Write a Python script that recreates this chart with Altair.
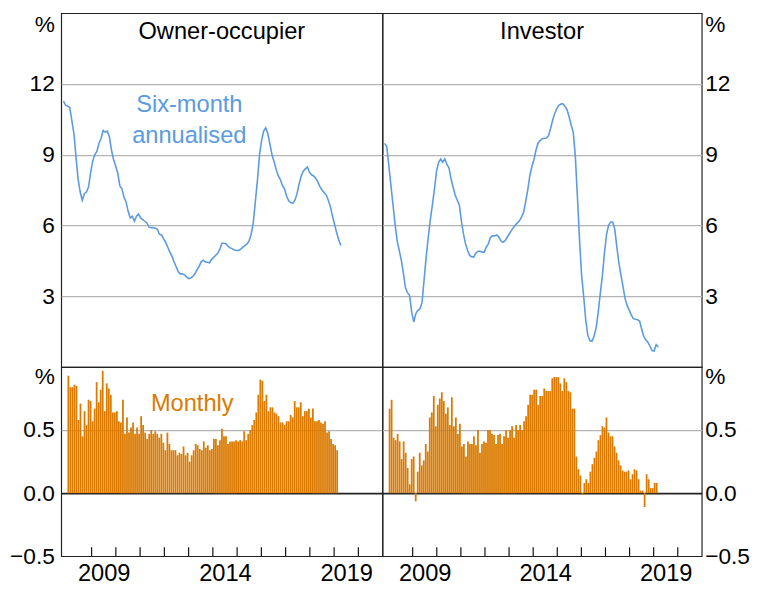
import altair as alt
import pandas as pd

# ---------------- data (monthly, from Jan 2008) ----------------
panel_titles = ["Owner-occupier", "Investor"]
tick_years = list(range(2009, 2021))
label_years = [2009.5, 2014.5, 2019.5]

oo_sixmonth = [
    11.27, 11.1, 11.06, 11.0, 10.45, 9.9, 8.9, 7.97, 7.42, 7.07, 7.35, 7.42,
    7.63, 8.24, 8.73, 9.0, 9.14, 9.48, 9.69, 10.03, 9.96, 10.0, 9.76, 9.2,
    8.8, 8.52, 8.24, 7.69, 7.56, 7.21, 7.0, 6.6, 6.32, 6.39, 6.18, 6.39,
    6.48, 6.32, 6.25, 6.18, 6.11, 5.93, 5.91, 5.91, 5.88, 5.84, 5.63, 5.6,
    5.43, 5.29, 5.08, 4.87, 4.7, 4.46, 4.26, 4.05, 3.95, 3.95, 3.91, 3.82,
    3.75, 3.77, 3.84, 3.95, 4.12, 4.26, 4.46, 4.53, 4.46, 4.44, 4.42, 4.56,
    4.65, 4.74, 4.83, 5.0, 5.25, 5.25, 5.22, 5.11, 5.05, 5.01, 4.96, 4.94,
    4.94, 5.0, 5.08, 5.15, 5.22, 5.35, 5.63, 6.1, 7.0, 7.9, 9.0, 9.6,
    10.0, 10.14, 9.9, 9.45, 9.0, 8.7, 8.38, 8.1, 7.95, 7.7, 7.56, 7.25,
    7.05, 6.97, 6.94, 7.07, 7.35, 7.76, 8.1, 8.3, 8.4, 8.48, 8.25, 8.15,
    8.1, 8.0, 7.85, 7.65, 7.5, 7.4, 7.3, 7.07, 6.8, 6.4, 6.05, 5.7,
    5.4, 5.15,
]

inv_sixmonth = [
    9.48, 9.34, 8.52, 7.69, 6.87, 6.04, 5.35, 4.94, 4.53, 3.98, 3.36, 3.15,
    3.04, 2.33, 1.91, 2.26, 2.40, 2.47, 2.74, 3.7, 4.67, 5.49, 6.25, 6.87,
    7.55, 8.31, 8.68, 8.82, 8.68, 8.82, 8.59, 8.45, 7.97, 7.62, 7.28, 7.07,
    6.87, 6.18, 5.63, 5.22, 4.94, 4.73, 4.67, 4.67, 4.83, 4.91, 4.91, 4.87,
    4.87, 5.08, 5.22, 5.49, 5.56, 5.56, 5.6, 5.52, 5.35, 5.29, 5.35, 5.49,
    5.63, 5.77, 5.9, 6.01, 6.11, 6.2, 6.35, 6.55, 7.0, 7.5, 8.1, 8.5,
    8.79, 9.2, 9.5, 9.6, 9.68, 9.7, 9.71, 9.8, 10.1, 10.45, 10.75, 10.95,
    11.1, 11.15, 11.16, 11.05, 10.9, 10.6, 10.25, 9.95, 8.9, 7.2, 5.4, 3.9,
    3.0, 2.0, 1.35, 1.12, 1.09, 1.3, 1.65, 2.3, 3.1, 3.84, 4.8, 5.6,
    6.0, 6.15, 6.15, 5.85, 5.1, 4.4, 3.9, 3.4, 2.9, 2.6, 2.4, 2.2,
    2.05, 2.02, 2.0, 1.95, 1.6, 1.3, 1.15, 1.05, 0.88, 0.7, 0.68, 0.95,
    0.84,
]

oo_monthly = [
    0.93, 0.84, 0.84, 0.86, 0.85, 0.58, 0.71, 0.45, 0.65, 0.54, 0.74, 0.73,
    0.57, 0.67, 0.88, 0.72, 0.82, 0.97, 0.65, 0.87, 0.83, 0.78, 0.64, 0.64,
    0.65, 0.57, 0.56, 0.74, 0.47, 0.60, 0.48, 0.52, 0.56, 0.47, 0.52, 0.47,
    0.61, 0.54, 0.48, 0.43, 0.47, 0.50, 0.47, 0.49, 0.47, 0.44, 0.47, 0.40,
    0.34, 0.48, 0.39, 0.34, 0.34, 0.34, 0.30, 0.32, 0.31, 0.37, 0.30, 0.32,
    0.25, 0.30, 0.34, 0.39, 0.38, 0.35, 0.34, 0.41, 0.36, 0.38, 0.34, 0.35,
    0.43, 0.43, 0.38, 0.42, 0.51, 0.45, 0.45, 0.39, 0.41, 0.41, 0.41, 0.42,
    0.41, 0.42, 0.41, 0.49, 0.42, 0.47, 0.50, 0.54, 0.58, 0.64, 0.78, 0.90,
    0.89, 0.73, 0.78, 0.65, 0.68, 0.68, 0.64, 0.63, 0.61, 0.56, 0.56, 0.54,
    0.57, 0.57, 0.62, 0.60, 0.73, 0.68, 0.68, 0.72, 0.61, 0.65, 0.65, 0.67,
    0.60, 0.67, 0.57, 0.57, 0.58, 0.56, 0.55, 0.57, 0.48, 0.49, 0.43, 0.39,
    0.38, 0.34,
]

inv_monthly = [
    0.67, 0.74, 0.44, 0.42, 0.47, 0.41, 0.27, 0.41, 0.32, 0.20, 0.07, 0.27,
    0.29, -0.065, 0.17, 0.32, 0.22, 0.26, 0.39, 0.33, 0.60, 0.64, 0.77, 0.53,
    0.70, 0.75, 0.80, 0.73, 0.63, 0.68, 0.54, 0.76, 0.53, 0.60, 0.47, 0.55,
    0.37, 0.39, 0.29, 0.41, 0.39, 0.39, 0.45, 0.38, 0.50, 0.32, 0.39, 0.41,
    0.40, 0.50, 0.50, 0.47, 0.46, 0.39, 0.46, 0.47, 0.39, 0.45, 0.50, 0.44,
    0.50, 0.53, 0.44, 0.54, 0.50, 0.54, 0.50, 0.57, 0.61, 0.70, 0.78, 0.78,
    0.82, 0.82, 0.70, 0.77, 0.77, 0.83, 0.81, 0.81, 0.81, 0.91, 0.92, 0.92,
    0.92, 0.87, 0.81, 0.91, 0.88, 0.81, 0.80, 0.67, 0.67, 0.29, 0.19, 0.14,
    -0.01, 0.08, 0.11, 0.08, 0.17, 0.23, 0.28, 0.33, 0.42, 0.46, 0.53, 0.52,
    0.60, 0.48, 0.45, 0.45, 0.37, 0.32, 0.26, 0.22, 0.18, 0.17, 0.17, 0.18,
    0.11, 0.15, 0.19, 0.18, 0.11, 0.02, 0.02, -0.11, 0.15, 0.11, 0.04, 0.04,
    0.08, 0.08,
]

# ---------------- styling ----------------
BLUE = "#5B9BDF"
ORANGE = "#DB7A00"
GRID = "#b4b4b4"
FONT = "Liberation Sans"

W_L, W_R = 326, 324
H_T, H_B = 359, 192

xscale = alt.Scale(domain=[2007.95, 2020.79], nice=False, zero=False)


def month_times(n):
    return [2008 + (i + 0.5) / 12 for i in range(n)]


def top_axis(side):
    return alt.Axis(
        orient=side,
        values=[3, 6, 9, 12, 14.5],
        labelExpr="datum.value > 13 ? '%' : datum.label",
        ticks=False,
        domain=False,
        grid=True,
        gridColor=GRID,
        gridWidth=1.2,
        gridOpacity={"condition": {"test": "datum.value > 13", "value": 0}, "value": 1},
        labelFontSize=23,
        labelPadding=7 if side == "left" else 3,
        labelColor="#000",
        labelFont=FONT,
        title=None,
    )


def bottom_axis(side):
    return alt.Axis(
        orient=side,
        values=[-0.5, 0, 0.5, 0.92],
        labelExpr="datum.value > 0.8 ? '%' : format(datum.value, '.1f')",
        ticks=False,
        domain=False,
        grid=True,
        gridColor={"condition": {"test": "datum.value == 0", "value": "#222"}, "value": GRID},
        gridWidth={"condition": {"test": "datum.value == 0", "value": 1.6}, "value": 1.2},
        gridOpacity={"condition": {"test": "datum.value == 0 || datum.value == 0.5", "value": 1}, "value": 0},
        labelFontSize=23,
        labelPadding=7 if side == "left" else 3,
        labelColor="#000",
        labelFont=FONT,
        title=None,
    )


xaxis_bottom = alt.Axis(
    values=label_years,
    labelExpr="'' + floor(datum.value)",
    ticks=False,
    domain=False,
    grid=False,
    labelFontSize=24,
    labelPadding=6,
    labelColor="#000",
    labelFont=FONT,
    title=None,
)


def top_panel(values, title, side, width, annotate):
    df = pd.DataFrame({"t": month_times(len(values)), "v": values})
    line = alt.Chart(df).mark_line(color=BLUE, strokeWidth=1.6).encode(
        x=alt.X("t:Q", scale=xscale, axis=None),
        y=alt.Y("v:Q", scale=alt.Scale(domain=[0, 15], nice=False, zero=False), axis=top_axis(side)),
    )
    ttl = alt.Chart(pd.DataFrame({"label": [title]})).mark_text(
        fontSize=24, font=FONT, color="#000", baseline="middle", align="center"
    ).encode(x=alt.value(width / 2), y=alt.value(19), text="label:N")
    layers = [line, ttl]
    if annotate:
        ann = alt.Chart(pd.DataFrame({"label": ["Six-month", "annualised"], "py": [93, 125]})).mark_text(
            fontSize=24, font=FONT, color=BLUE, baseline="middle", align="center"
        ).encode(x=alt.value(130), y=alt.Y("py:Q", scale=None), text="label:N")
        layers.append(ann)
    return alt.layer(*layers).properties(width=width, height=H_T)


def bottom_panel(values, side, width, annotate):
    df = pd.DataFrame({"t": month_times(len(values)), "v": values})
    bars = alt.Chart(df).mark_bar(color=ORANGE, width=1.8).encode(
        x=alt.X("t:Q", scale=xscale, axis=xaxis_bottom),
        y=alt.Y("v:Q", scale=alt.Scale(domain=[-0.5, 1.0], nice=False, zero=False),
                axis=bottom_axis(side), stack=None),
        y2=alt.datum(0),
    )
    ticks = alt.Chart(pd.DataFrame({"t": tick_years})).mark_rule(color="#111", strokeWidth=1.2).encode(
        x=alt.X("t:Q", scale=xscale, axis=xaxis_bottom),
        y=alt.value(H_B),
        y2=alt.value(H_B - 9),
    )
    layers = [bars, ticks]
    if annotate:
        ann = alt.Chart(pd.DataFrame({"label": ["Monthly"]})).mark_text(
            fontSize=24, font=FONT, color=ORANGE, baseline="middle", align="center"
        ).encode(x=alt.value(133), y=alt.value(38), text="label:N")
        layers.append(ann)
    return alt.layer(*layers).properties(width=width, height=H_B)


tl = top_panel(oo_sixmonth, panel_titles[0], "left", W_L, True)
tr = top_panel(inv_sixmonth, panel_titles[1], "right", W_R, False)
bl = bottom_panel(oo_monthly, "left", W_L, True)
br = bottom_panel(inv_monthly, "right", W_R, False)

chart = alt.concat(tl, tr, bl, br, columns=2, spacing=0, bounds="flush").properties(
    padding={"left": 0, "top": 0, "right": 0, "bottom": 0},
    background="white",
).configure_view(stroke="#222", strokeWidth=1.2).configure_axis(labelFont=FONT)

chart.save("out.html", embed_options={"renderer": "svg", "actions": False})
